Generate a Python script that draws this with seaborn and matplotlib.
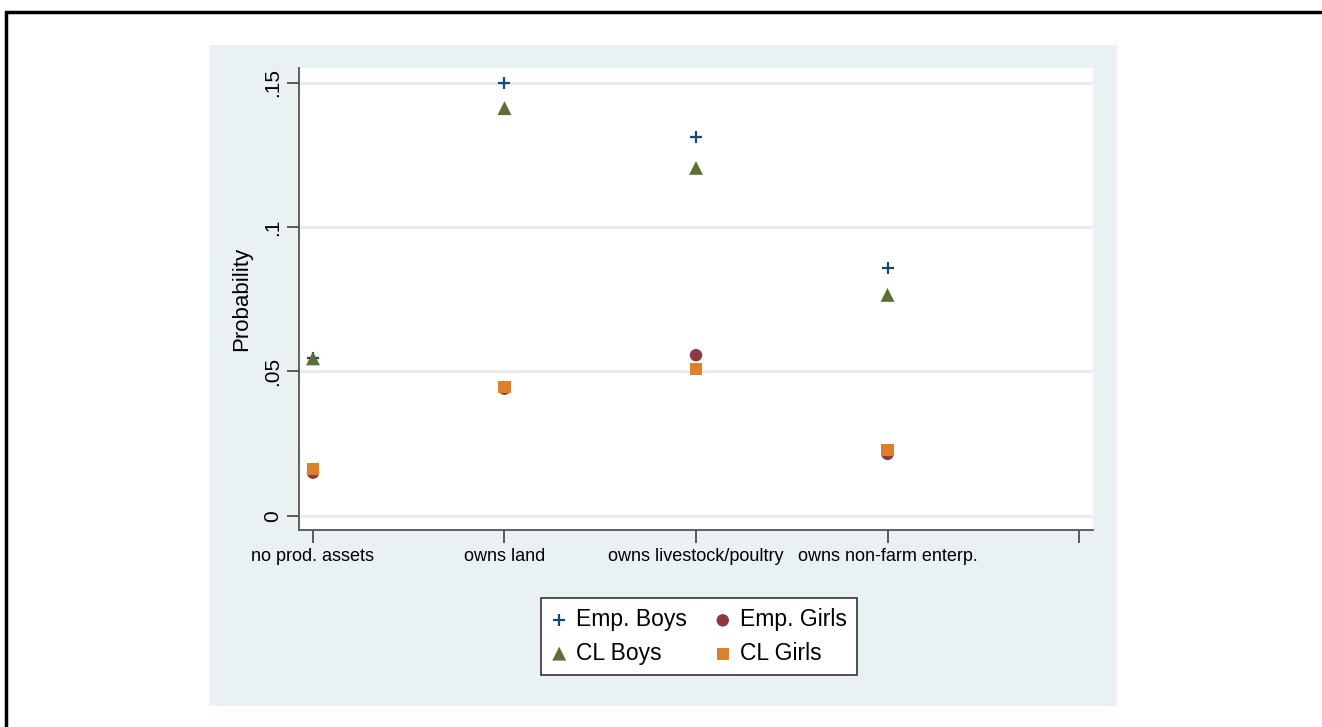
import pandas as pd
import matplotlib
matplotlib.use('Agg')
import matplotlib.pyplot as plt
import seaborn as sns
from matplotlib.patches import Rectangle

categories = ['no prod. assets', 'owns land', 'owns livestock/poultry', 'owns non-farm enterp.']
emp_boys = [0.0545, 0.150, 0.1312, 0.0857]
emp_girls = [0.0149, 0.0440, 0.0556, 0.0214]
cl_boys = [0.0545, 0.1412, 0.1205, 0.0765]
cl_girls = [0.0162, 0.0446, 0.0508, 0.0228]
y_ticks = [0, 0.05, 0.1, 0.15]
y_tick_labels = ['0', '.05', '.1', '.15']

sns.set_style('white')
plt.rcParams['font.family'] = ['Liberation Sans', 'DejaVu Sans']
plt.rcParams['text.color'] = 'black'
plt.rcParams['xtick.color'] = 'black'
plt.rcParams['ytick.color'] = 'black'
plt.rcParams['axes.labelcolor'] = 'black'

fig = plt.figure(figsize=(13.22, 7.27), dpi=100)
W, H = 1322, 727
# outer frame and light panel
fig.patches.append(Rectangle((6 / W, -0.1), 1.2, (H - 12) / H + 0.1, transform=fig.transFigure,
                             fill=False, edgecolor='black', linewidth=2.5, zorder=0))
fig.patches.append(Rectangle((209 / W, (H - 706) / H), (1117 - 209) / W, (706 - 45) / H,
                             transform=fig.transFigure, facecolor='#e9f1f3',
                             edgecolor='none', zorder=0))

ax = fig.add_axes([299 / W, (H - 530) / H, (1093 - 299) / W, (530 - 68) / H])
ax.set_zorder(2)
ax.set_facecolor('white')

df = pd.DataFrame({'cat': categories, 'Emp. Boys': emp_boys, 'Emp. Girls': emp_girls,
                   'CL Boys': cl_boys, 'CL Girls': cl_girls})

sns.scatterplot(data=df, x='cat', y='Emp. Boys', marker='+', s=85, color='#1a476f',
                linewidth=1.6, ax=ax, label='Emp. Boys', zorder=3)
sns.scatterplot(data=df, x='cat', y='Emp. Girls', marker='o', s=80, color='#8b3a3f',
                edgecolor='none', ax=ax, label='Emp. Girls', zorder=3)
sns.scatterplot(data=df, x='cat', y='CL Boys', marker='^', s=100, color='#5a7035',
                edgecolor='none', ax=ax, label='CL Boys', zorder=4)
sns.scatterplot(data=df, x='cat', y='CL Girls', marker='s', s=75, color='#e07f2a',
                edgecolor='none', ax=ax, label='CL Girls', zorder=4)

ax.set_xticks(range(len(categories) + 1))
ax.set_xticklabels(categories + [''])
ax.set_xlim(-0.073, len(categories) + 0.073)
ax.set_ylim(-0.00495, 0.1551)
ax.set_yticks(y_ticks)
ax.set_yticklabels(y_tick_labels, rotation=90, va='center')
ax.yaxis.grid(True, color='#e6eef0', linewidth=2)
ax.set_axisbelow(True)
ax.set_xlabel('')
ax.set_ylabel('Probability', fontsize=16, labelpad=8)

for s in ['top', 'right']:
    ax.spines[s].set_visible(False)
for s in ['left', 'bottom']:
    ax.spines[s].set_color('#555555')
    ax.spines[s].set_linewidth(1.3)
ax.tick_params(axis='both', which='both', direction='out', length=9, width=1.1,
               color='#333333', labelsize=13, pad=4, left=True, bottom=True)
ax.tick_params(axis='y', labelsize=15, pad=3)

handles, labels = ax.get_legend_handles_labels()
order = [0, 2, 1, 3]
leg = fig.legend([handles[i] for i in order], [labels[i] for i in order], ncol=2,
                 loc='center', bbox_to_anchor=(699 / W, (H - 636.5) / H), fontsize=16.5,
                 frameon=True, fancybox=False, edgecolor='#333333', framealpha=1,
                 handletextpad=0.4, columnspacing=1.2, borderpad=0.45, labelspacing=0.45,
                 handlelength=0.7)
leg.get_frame().set_linewidth(1.2)
ax.get_legend().remove()

fig.savefig('out.png', dpi=100)
